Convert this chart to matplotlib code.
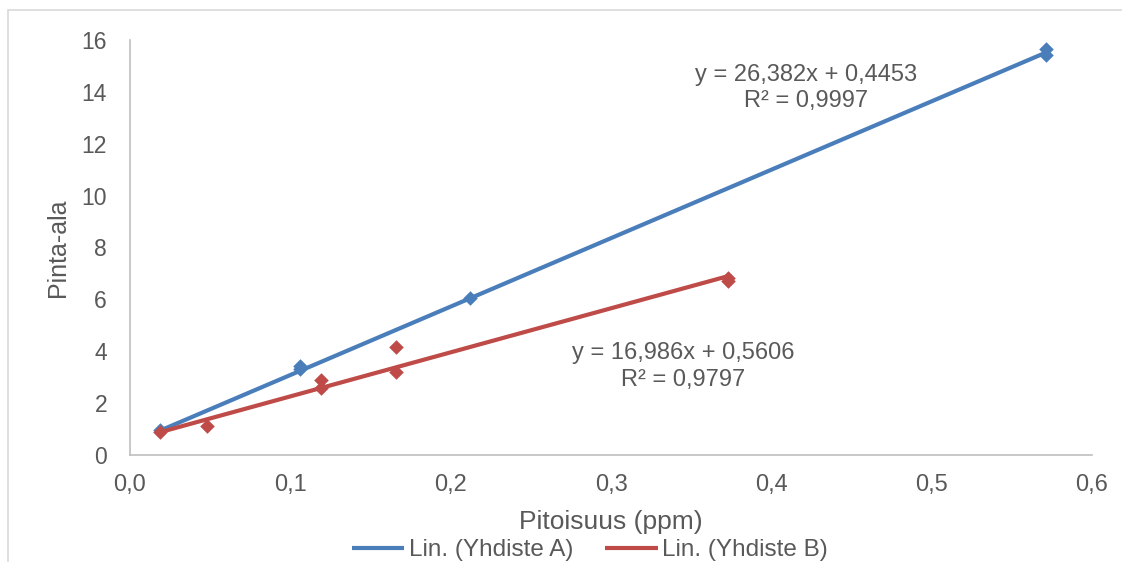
import numpy as np
import matplotlib.pyplot as plt
from matplotlib.patches import Rectangle
from matplotlib.ticker import FuncFormatter

plt.rcParams['font.family'] = ['Liberation Sans', 'DejaVu Sans']

# Yhdiste A
xa = [0.019, 0.106, 0.106, 0.212, 0.571, 0.571]
ya = [0.96, 3.45, 3.30, 6.05, 15.65, 15.42]
# Yhdiste B
xb = [0.019, 0.048, 0.119, 0.119, 0.166, 0.166, 0.373, 0.373]
yb = [0.88, 1.12, 2.89, 2.60, 4.16, 3.20, 6.82, 6.72]

# trendlines as given in the chart
ka, ba = 26.382, 0.4453
kb, bb = 16.986, 0.5606
eq_a = ['y = 26,382x + 0,4453', 'R² = 0,9997']
eq_b = ['y = 16,986x + 0,5606', 'R² = 0,9797']

blue = '#4A7EBB'
red = '#BE4B48'
grey = '#595959'

fig = plt.figure(figsize=(11.22, 5.62), dpi=100)
# outer chart frame
fig.patches.append(Rectangle((8 / 1122, -0.1), 1.2, 1 - 10 / 562 + 0.1,
                             transform=fig.transFigure, fill=False,
                             edgecolor='#D9D9D9', linewidth=1.2))
ax = fig.add_axes([130 / 1122, 1 - 455 / 562, 962 / 1122, 415 / 562])

xla = np.array([min(xa), max(xa)])
xlb = np.array([min(xb), max(xb)])
ax.plot(xla, ka * xla + ba, color=blue, lw=3, solid_capstyle='butt',
        label='Lin. (Yhdiste A)', zorder=3)
ax.plot(xlb, kb * xlb + bb, color=red, lw=3, solid_capstyle='butt',
        label='Lin. (Yhdiste B)', zorder=4)
ax.scatter(xa, ya, marker='D', s=55, color=blue, zorder=3, linewidths=0)
ax.scatter(xb, yb, marker='D', s=55, color=red, zorder=4, linewidths=0)

ax.set_xlim(0, 0.6)
ax.set_ylim(0, 16)
ax.set_xticks(np.arange(0, 0.61, 0.1))
ax.set_yticks(np.arange(0, 17, 2))
ax.xaxis.set_major_formatter(FuncFormatter(lambda v, p: ('%.1f' % v).replace('.', ',')))
ax.tick_params(length=0, labelcolor=grey)
ax.tick_params(axis='y', pad=16.5, labelsize=16.5)
ax.tick_params(axis='x', pad=13.5, labelsize=17)
for s in ['top', 'right']:
    ax.spines[s].set_visible(False)
for s in ['left', 'bottom']:
    ax.spines[s].set_color('#BFBFBF')
    ax.spines[s].set_linewidth(1.2)

ax.set_xlabel('Pitoisuus (ppm)', fontsize=19, color=grey, labelpad=10)
ax.set_ylabel('Pinta-ala', fontsize=18, color=grey, labelpad=8)

ax.text(0.4217, 14.65, eq_a[0], fontsize=17, color=grey, ha='center', va='center')
ax.text(0.4217, 13.65, eq_a[1], fontsize=17, color=grey, ha='center', va='center')
ax.text(0.345, 3.93, eq_b[0], fontsize=17, color=grey, ha='center', va='center')
ax.text(0.345, 2.89, eq_b[1], fontsize=17, color=grey, ha='center', va='center')

fig.legend(loc='center', bbox_to_anchor=(0.526, 1 - 550 / 562), ncol=2,
           frameon=False, fontsize=17.5, labelcolor=grey, handlelength=2.15,
           handletextpad=0.2, columnspacing=1.3, borderpad=0)

fig.savefig('out.png', dpi=100)
